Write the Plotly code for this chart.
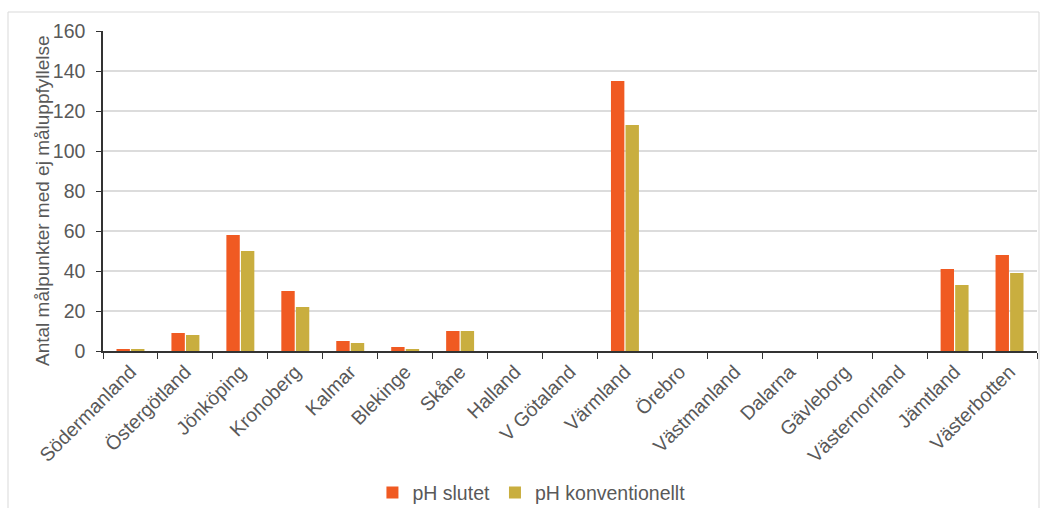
import plotly.graph_objects as go

# Län (counties) on the category axis
lan = ["Södermanland", "Östergötland", "Jönköping", "Kronoberg", "Kalmar",
       "Blekinge", "Skåne", "Halland", "V Götaland", "Värmland", "Örebro",
       "Västmanland", "Dalarna", "Gävleborg", "Västernorrland", "Jämtland",
       "Västerbotten"]

ph_slutet = [1, 9, 58, 30, 5, 2, 10, 0, 0, 135, 0, 0, 0, 0, 0, 41, 48]
ph_konventionellt = [1, 8, 50, 22, 4, 1, 10, 0, 0, 113, 0, 0, 0, 0, 0, 33, 39]

y_ticks = [0, 20, 40, 60, 80, 100, 120, 140, 160]
y_title = "Antal målpunkter med ej måluppfyllelse"

text_col = "#595959"
font_family = "Liberation Sans, Arial, sans-serif"

fig = go.Figure()
fig.add_trace(go.Bar(name="pH slutet", x=lan, y=ph_slutet,
                     marker=dict(color="#F05A22", line=dict(width=0))))
fig.add_trace(go.Bar(name="pH konventionellt", x=lan, y=ph_konventionellt,
                     marker=dict(color="#C9AE3F", line=dict(width=0))))

L, R, T, B = 103, 3, 31, 157
W, H = 1040, 508
pw, ph = W - L - R, H - T - B

fig.update_layout(
    width=W, height=H,
    margin=dict(l=L, r=R, t=T, b=B, autoexpand=False),
    paper_bgcolor="white", plot_bgcolor="white",
    barmode="group", bargap=0.47, bargroupgap=0.08,
    font=dict(family=font_family, color=text_col),
    showlegend=True,
    legend=dict(orientation="h", xref="container", x=0.511, xanchor="center",
                yref="container", y=0.03, yanchor="middle",
                font=dict(size=19.5, color=text_col), itemwidth=30,
                traceorder="normal"),
    xaxis=dict(
        tickangle=-45, tickfont=dict(size=19.5, color=text_col),
        showline=True, linecolor="#333333", linewidth=1.5,
        ticks="outside", tickson="boundaries", ticklen=6, tickcolor="#333333",
        showgrid=False, automargin=False,
    ),
    yaxis=dict(
        range=[0, 160], tickvals=y_ticks, tickfont=dict(size=19.5, color=text_col),
        showline=True, linecolor="#333333", linewidth=1.5,
        ticks="outside", ticklen=5, tickcolor="#333333", ticklabelstandoff=7,
        showgrid=True, gridcolor="#DCDCDC", gridwidth=1.5, zeroline=False,
        automargin=False,
    ),
    annotations=[dict(text=y_title, textangle=-90, showarrow=False,
                      xref="paper", yref="paper",
                      x=(42 - L) / pw, y=(H - B - 201) / ph,
                      xanchor="center", yanchor="middle",
                      font=dict(size=19, color=text_col))],
    shapes=[dict(type="rect", xref="paper", yref="paper",
                 x0=(8 - L) / pw, x1=(1039 - L) / pw,
                 y0=(H - B - 515) / ph, y1=(H - B - 12) / ph,
                 line=dict(color="#D9D9D9", width=1), layer="below")],
)

fig.write_html("out.html")
